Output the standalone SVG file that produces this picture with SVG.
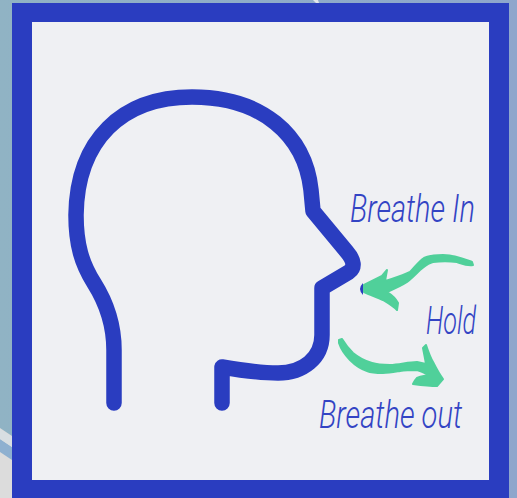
<svg xmlns="http://www.w3.org/2000/svg" width="517" height="498" viewBox="0 0 517 498">
<defs>
<style>
.head{fill:none;stroke:#2a3dc0;stroke-width:15.5;stroke-linecap:round;stroke-linejoin:round}
.arrow{fill:#50d09a;stroke:#50d09a;stroke-width:2;stroke-linejoin:round}
.lbl{font-family:"Roboto","Liberation Sans",sans-serif;font-weight:300;font-style:italic;font-size:38px;fill:#3344c4}
</style>
<linearGradient id="bg" x1="0" y1="0" x2="1" y2="0"><stop offset="0" stop-color="#90b3c4"/><stop offset="1" stop-color="#8ea6cc"/></linearGradient>
</defs>
<rect width="517" height="498" fill="url(#bg)"/>
<g id="background-stripes">
<polygon points="0,428 12,436 12,498 0,498" fill="#dcdcdc"/>
<polygon points="0,439 12,447 12,460 0,452" fill="#8eb0d0"/>
<polygon points="0,429 12,437 12,447 0,439" fill="#d8dee2"/>
<polygon points="313,0 318,0 319,3 316,3" fill="#e2e6ea"/>
</g>
<g id="frame">
<rect x="12" y="3" width="497" height="495" fill="#2a3dc0"/>
<rect x="32" y="22" width="457" height="458" fill="#eff0f3"/>
</g>
<g id="head">
<path class="head" d="M114,403 V350 C114,325 106,302 94,283 C82,264 76,245 76,215 C77,140 122,97 192,97 C262,97 305,135 311,190 L313,211 L347,252 Q358,265 349,272 L322,288 V335 C322,358 303,373 278,373 C258,373 240,370 222,367 V403"/>
</g>
<g id="connectors">
<path id="arrow-in" class="arrow" d="M364,285 L382,276 L387,270 L385,281 C394,278 402,276 410,272 C415,267 419,261 424,258 C430,255 436,255 443,255 C455,255 464,259 472,262 L473,265 C467,266 463,264 457,262 C449,261 441,261 433,262 C428,263 424,267 420,270 C416,274 412,278 407,282 C401,286 394,289 387,292 C392,295 396,299 398,303 L397,310 C393,306 388,303 383,300 C377,297 370,295 364,292 Z"/>
<path id="arrow-in-tip" d="M363,283 L363,295 Q357,289 363,283 Z" fill="#2a3dc0"/>
<path id="arrow-out" class="arrow" d="M339,340 L342,339 C345,344 349,349 353,353 C359,358 365,361 372,363 C378,365 384,365 390,365 C399,365 408,362 417,362 L426,364 C425,358 424,353 423,348 L426,345 C428,351 430,357 433,362 C436,368 439,374 443,379 L437,386 C429,386 421,385 413,384 C414,382 415,380 417,378 C421,376 425,376 429,375 C425,373 421,371 417,370 C411,370 406,370 400,371 C394,372 389,373 383,373 C378,373 372,373 367,371 C361,369 355,365 350,360 C345,355 341,349 339,343 Z"/>
</g>
<g id="labels">
<text class="lbl" x="350" y="222" textLength="125" lengthAdjust="spacingAndGlyphs">Breathe In</text>
<text class="lbl" x="426" y="334" textLength="50" lengthAdjust="spacingAndGlyphs">Hold</text>
<text class="lbl" x="319" y="428" textLength="143" lengthAdjust="spacingAndGlyphs">Breathe out</text>
</g>
</svg>
